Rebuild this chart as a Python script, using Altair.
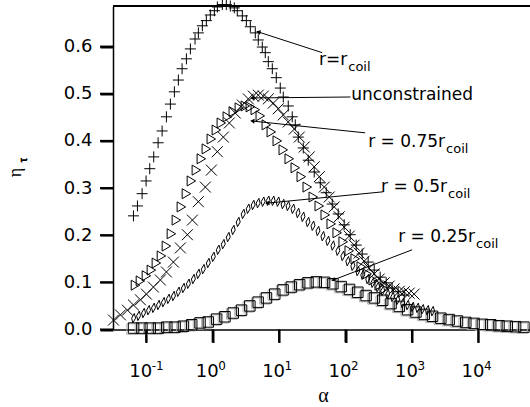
import math
import altair as alt
import pandas as pd

# ---------------- data (log10(alpha), eta) ----------------
# r = r_coil  (+)
plus_log_alpha = [-1.192, -1.132, -1.062, -1.002, -0.947, -0.887, -0.821, -0.761, -0.696, -0.636,
                  -0.576, -0.516, -0.460, -0.395, -0.335, -0.265, -0.215, -0.155, -0.095, -0.035,
                  0.026, 0.071, 0.146, 0.206, 0.266, 0.326, 0.371, 0.447, 0.507, 0.567,
                  0.642, 0.687, 0.747, 0.792, 0.838, 0.898, 0.958, 1.018, 1.063, 1.138,
                  1.198, 1.244, 1.289, 1.364, 1.439, 1.529, 1.620, 1.710, 1.800, 1.890,
                  1.980, 2.071, 2.161, 2.251, 2.341, 2.432, 2.522, 2.612, 2.702, 2.792, 2.883]
plus_eta = [0.241, 0.262, 0.288, 0.315, 0.341, 0.366, 0.396, 0.421, 0.451, 0.478,
            0.504, 0.529, 0.553, 0.574, 0.595, 0.616, 0.629, 0.644, 0.655, 0.667,
            0.676, 0.684, 0.689, 0.689, 0.686, 0.682, 0.676, 0.665, 0.655, 0.642,
            0.629, 0.614, 0.599, 0.587, 0.568, 0.553, 0.534, 0.512, 0.493, 0.474,
            0.451, 0.434, 0.408, 0.385, 0.359, 0.334, 0.311, 0.290, 0.266, 0.245,
            0.222, 0.201, 0.179, 0.160, 0.143, 0.126, 0.111, 0.099, 0.088, 0.080, 0.073]

# unconstrained (x)
cross_log_alpha = [-1.492, -1.388, -1.283, -1.192, -1.087, -0.997, -0.892, -0.787, -0.696, -0.591,
                   -0.486, -0.380, -0.305, -0.215, -0.110, -0.020, 0.071, 0.161, 0.251, 0.341,
                   0.447, 0.537, 0.612, 0.687, 0.762, 0.838, 0.913, 0.988, 1.063, 1.138,
                   1.229, 1.304, 1.379, 1.454, 1.529, 1.605, 1.680, 1.755, 1.830, 1.905,
                   1.980, 2.056, 2.131, 2.206, 2.281, 2.356, 2.432, 2.507, 2.582, 2.657,
                   2.732, 2.808, 2.883, 2.958, 3.033]
cross_eta = [0.020, 0.031, 0.041, 0.052, 0.063, 0.075, 0.090, 0.105, 0.122, 0.143,
             0.173, 0.201, 0.232, 0.271, 0.302, 0.338, 0.377, 0.408, 0.438, 0.459,
             0.476, 0.489, 0.495, 0.497, 0.495, 0.489, 0.480, 0.468, 0.455, 0.440,
             0.425, 0.408, 0.387, 0.366, 0.345, 0.324, 0.302, 0.281, 0.260, 0.239,
             0.217, 0.198, 0.179, 0.162, 0.145, 0.130, 0.118, 0.107, 0.099, 0.092,
             0.086, 0.081, 0.080, 0.077, 0.075]

# r = 0.75 r_coil (triangles)
tri_log_alpha = [-1.162, -1.087, -0.997, -0.922, -0.847, -0.771, -0.696, -0.621, -0.546, -0.471,
                 -0.395, -0.320, -0.245, -0.170, -0.095, -0.020, 0.056, 0.131, 0.221, 0.311,
                 0.402, 0.492, 0.567, 0.642, 0.717, 0.808, 0.883, 0.973, 1.063, 1.153,
                 1.244, 1.334, 1.424, 1.515, 1.605, 1.695, 1.785, 1.875, 1.965, 2.056,
                 2.146, 2.236, 2.326, 2.417, 2.507, 2.582]
tri_eta = [0.094, 0.103, 0.114, 0.126, 0.141, 0.156, 0.177, 0.203, 0.232, 0.260,
           0.288, 0.315, 0.338, 0.362, 0.383, 0.404, 0.423, 0.438, 0.451, 0.462,
           0.470, 0.474, 0.472, 0.466, 0.453, 0.434, 0.419, 0.400, 0.381, 0.362,
           0.343, 0.324, 0.302, 0.281, 0.262, 0.243, 0.224, 0.205, 0.186, 0.167,
           0.150, 0.133, 0.118, 0.105, 0.094, 0.086]

# r = 0.5 r_coil (diamonds)
diam_log_alpha = [-1.190, -1.115, -1.040, -0.965, -0.890, -0.815, -0.740, -0.665, -0.590, -0.515,
                  -0.440, -0.365, -0.290, -0.215, -0.140, -0.065, 0.010, 0.085, 0.160, 0.235,
                  0.310, 0.385, 0.460, 0.535, 0.610, 0.685, 0.760, 0.835, 0.910, 0.985,
                  1.060, 1.135, 1.210, 1.285, 1.360, 1.435, 1.510, 1.585, 1.660, 1.735,
                  1.810, 1.885, 1.960, 2.035, 2.110, 2.185, 2.260, 2.335, 2.410, 2.485,
                  2.560, 2.635, 2.710, 2.785, 2.860, 2.935, 3.010, 3.085, 3.160, 3.235, 3.310]
diam_eta = [0.024, 0.029, 0.035, 0.041, 0.046, 0.052, 0.058, 0.065, 0.071, 0.080,
            0.088, 0.097, 0.107, 0.118, 0.128, 0.141, 0.154, 0.169, 0.181, 0.196,
            0.211, 0.228, 0.245, 0.256, 0.264, 0.268, 0.271, 0.273, 0.273, 0.271,
            0.266, 0.262, 0.256, 0.247, 0.239, 0.228, 0.220, 0.209, 0.198, 0.188,
            0.178, 0.167, 0.156, 0.145, 0.135, 0.124, 0.116, 0.107, 0.099, 0.090,
            0.082, 0.075, 0.069, 0.063, 0.056, 0.052, 0.048, 0.046, 0.043, 0.041, 0.039]

# r = 0.25 r_coil (squares)
sq_log_alpha = [-1.190, -1.065, -0.940, -0.815, -0.690, -0.565, -0.440, -0.315, -0.190, -0.065,
                0.060, 0.185, 0.310, 0.435, 0.560, 0.685, 0.810, 0.935, 1.060, 1.185,
                1.310, 1.435, 1.560, 1.685, 1.810, 1.935, 2.060, 2.185, 2.310, 2.435,
                2.560, 2.685, 2.810, 2.935, 3.060, 3.185, 3.310, 3.435, 3.560, 3.685,
                3.810, 3.935, 4.060, 4.185, 4.310, 4.435, 4.560, 4.685]
sq_eta = [0.003, 0.003, 0.003, 0.003, 0.005, 0.005, 0.007, 0.010, 0.014, 0.016,
          0.022, 0.027, 0.035, 0.041, 0.050, 0.058, 0.067, 0.075, 0.084, 0.090,
          0.095, 0.099, 0.101, 0.100, 0.097, 0.091, 0.085, 0.079, 0.072, 0.067,
          0.062, 0.055, 0.049, 0.042, 0.037, 0.032, 0.028, 0.024, 0.021, 0.018,
          0.015, 0.013, 0.011, 0.010, 0.008, 0.007, 0.006, 0.005]

# annotations
ann_labels = ["r=r", "unconstrained", "r = 0.75r", "r = 0.5r", "r = 0.25r"]
ann_subs = ["coil", "", "coil", "coil", "coil"]
ann_text_log_alpha = [2.026, 3.920, 3.499, 3.529, 3.950]
ann_text_eta = [0.561, 0.487, 0.387, 0.292, 0.186]
ann_start_log_alpha = [1.650, 2.074, 2.296, 2.567, 3.003]
ann_start_eta = [0.587, 0.493, 0.417, 0.292, 0.169]
ann_tip_log_alpha = [0.687, 0.597, 0.597, 0.823, 1.815]
ann_tip_eta = [0.631, 0.491, 0.442, 0.268, 0.105]

# axes
x_tick_exps = [-1, 0, 1, 2, 3, 4]
x_tick_exp_text = ["-1", "0", "1", "2", "3", "4"]
y_ticks = [0.0, 0.1, 0.2, 0.3, 0.4, 0.5, 0.6]
x_domain_log = [-1.5, 4.777]
y_domain = [0.0, 0.686]

# ---------------- layout ----------------
W, H = 417, 323.5
FONT = "DejaVu Sans"
TICK = 13

xs = alt.Scale(type="log", domain=[10 ** x_domain_log[0], 10 ** x_domain_log[1]], nice=False)
ys = alt.Scale(domain=y_domain, nice=False, zero=False)

x_axis = alt.Axis(values=[10.0 ** e for e in x_tick_exps], labelExpr="'10'", grid=False,
                  ticks=True, tickSize=TICK, tickWidth=2, domainWidth=1.5, domainColor="black",
                  tickColor="black", tickOpacity=1,
                  labelFont=FONT, labelFontSize=18, labelColor="black", labelBaseline="alphabetic",
                  labelPadding=34, labelFlush=False, labelOffset=-6,
                  title="α", titleFont="Liberation Serif", titleFontSize=20, titleFontWeight="normal",
                  titleColor="black", titleBaseline="alphabetic", titleX=210, titleY=72)
y_axis = alt.Axis(values=y_ticks, format=".1f", grid=False,
                  ticks=True, tickSize=TICK, tickWidth=2, domainWidth=1.5, domainColor="black",
                  tickColor="black", tickOpacity=1,
                  labelFont=FONT, labelFontSize=18, labelColor="black", labelPadding=8,
                  title="η", titleFont="Liberation Serif", titleFontSize=18, titleFontWeight="normal",
                  titleColor="black", titleAngle=270, titleBaseline="alphabetic", titleAlign="center",
                  titleX=-93, titleY=166)


def X(field):
    return alt.X(field, type="quantitative", scale=xs, axis=x_axis)


def Y(field):
    return alt.Y(field, type="quantitative", scale=ys, axis=y_axis)


def frame(log_a, eta):
    return pd.DataFrame({"alpha": [10 ** v for v in log_a], "eta": eta})


def series(log_a, eta, shape, size, stroke="black", **kw):
    return alt.Chart(frame(log_a, eta)).mark_point(
        shape=shape, size=size, filled=False, stroke=stroke, strokeWidth=1, opacity=1, clip=False, **kw
    ).encode(x=X("alpha"), y=Y("eta"))


PLUS = "M-1,0L1,0M0,-1L0,1"
CROSS = "M-1,-1L1,1M-1,1L1,-1"
TRI = "M-0.85,-1L0.85,0L-0.85,1Z"
DIAM = "M0.15,-1L0.42,0L-0.15,1L-0.42,0Z"

sq_shadow = series(sq_log_alpha, sq_eta, "square", 110, stroke="#b0b0b0", xOffset=-1.5, yOffset=1)
sq_layer = series(sq_log_alpha, sq_eta, "square", 110)
diam_layer = series(diam_log_alpha, diam_eta, DIAM, 90)
tri_layer = series(tri_log_alpha, tri_eta, TRI, 100)
cross_layer = series(cross_log_alpha, cross_eta, CROSS, 120)
plus_layer = series(plus_log_alpha, plus_eta, PLUS, 121)

# annotations
px_per_dec = W / (x_domain_log[1] - x_domain_log[0])
px_per_eta = H / (y_domain[1] - y_domain[0])
angles = []
for sa, se, ta, te in zip(ann_start_log_alpha, ann_start_eta, ann_tip_log_alpha, ann_tip_eta):
    dx = (ta - sa) * px_per_dec
    dy = -(te - se) * px_per_eta
    angles.append(math.degrees(math.atan2(dy, dx)) % 360)

ann = pd.DataFrame({
    "label": ann_labels, "sub": ann_subs,
    "ta": [10 ** v for v in ann_text_log_alpha], "te": ann_text_eta,
    "sa": [10 ** v for v in ann_start_log_alpha], "se": ann_start_eta,
    "pa": [10 ** v for v in ann_tip_log_alpha], "pe": ann_tip_eta,
    "ang": angles,
})

lines = alt.Chart(ann).mark_rule(color="black", strokeWidth=1).encode(
    x=X("sa"), y=Y("se"), x2="pa:Q", y2="pe:Q")
heads = alt.Chart(ann).mark_point(shape="triangle-right", filled=True, color="black", size=24, opacity=1).encode(
    x=X("pa"), y=Y("pe"), angle=alt.Angle("ang:Q", scale=None))
main_txt = alt.Chart(ann).mark_text(align="right", baseline="alphabetic", font=FONT, fontSize=17,
                                    color="black").encode(
    x=X("ta"), y=Y("te"), text="label:N")
sub_txt = alt.Chart(ann).mark_text(align="left", baseline="alphabetic", font=FONT, fontSize=13,
                                   color="black", dx=1, dy=6).encode(
    x=X("ta"), y=Y("te"), text="sub:N")

# tick-label exponents and explicit tick marks
exp_df = pd.DataFrame({"tick": [10.0 ** e for e in x_tick_exps], "txt": x_tick_exp_text})
exps = alt.Chart(exp_df).mark_text(align="left", baseline="alphabetic", font=FONT, fontSize=12,
                                   color="black", dx=5.5).encode(
    x=X("tick"), y=alt.value(H + 40.5), text="txt:N")
x_tick_rules = alt.Chart(exp_df).mark_rule(color="black", strokeWidth=2, clip=False).encode(
    x=X("tick"), y=alt.value(H), y2=alt.value(H + TICK))
ytick_df = pd.DataFrame({"v": y_ticks})
y_tick_rules = alt.Chart(ytick_df).mark_rule(color="black", strokeWidth=2, clip=False).encode(
    y=Y("v"), x=alt.value(-TICK), x2=alt.value(0))

top_line = alt.Chart(ann).mark_rule(color="black", strokeWidth=1.5).encode(
    x=alt.value(0), x2=alt.value(W), y=alt.value(0))
tau = alt.Chart(ann).mark_text(text="τ", font="Liberation Serif", fontSize=12, angle=270,
                               baseline="alphabetic", align="center", color="black").encode(
    x=alt.value(-86), y=alt.value(154))

chart = alt.layer(
    sq_shadow, sq_layer, diam_layer, tri_layer, cross_layer, plus_layer,
    lines, heads, main_txt, sub_txt, exps, x_tick_rules, y_tick_rules, top_line, tau
).properties(
    width=W, height=H,
    background="white",
    autosize=alt.AutoSizeParams(type="none"),
    padding={"left": 113, "top": 6, "right": 0, "bottom": 77.5},
).configure_view(stroke=None)

chart.save("out.html", embed_options={"renderer": "svg", "actions": False})
